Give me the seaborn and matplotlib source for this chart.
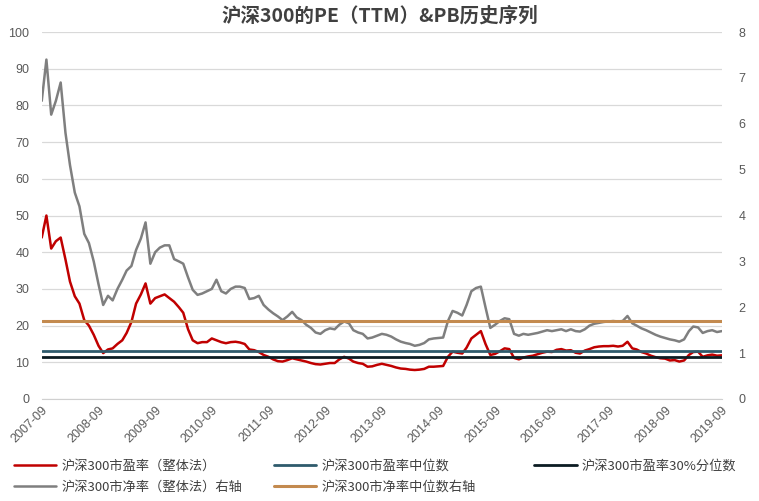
import matplotlib
matplotlib.use("Agg")
import matplotlib.pyplot as plt
import matplotlib.dates as mdates
import seaborn as sns
import pandas as pd

# monthly readings, 2007-09 .. 2019-09
pe = [44, 50, 41, 43, 44, 38, 32, 28, 26, 21.5, 20, 17.5,
      14.5, 12.5, 13.5, 13.8, 15, 16, 18, 21, 26, 28.5, 31.5, 26,
      27.5, 28, 28.5, 27.5, 26.5, 25, 23.5, 19, 16, 15.2, 15.5, 15.5,
      16.5, 16, 15.5, 15.2, 15.5, 15.6, 15.4, 15, 13.5, 13.3, 12.8, 12,
      11.5, 10.8, 10.3, 10.2, 10.6, 11.1, 10.8, 10.5, 10.2, 9.8, 9.5, 9.4,
      9.6, 9.8, 9.8, 10.8, 11.5, 11, 10.2, 9.8, 9.6, 8.8, 8.9, 9.3,
      9.6, 9.3, 9.0, 8.6, 8.3, 8.2, 8.0, 7.9, 8.0, 8.2, 8.8, 8.8,
      8.9, 9.0, 11.5, 12.9, 12.6, 12.4, 14, 16.5, 17.5, 18.5, 15, 12,
      12.3, 13, 13.8, 13.6, 11.2, 10.8, 11.3, 11.6, 11.8, 12.2, 12.6, 12.9,
      12.8, 13.4, 13.6, 13.2, 13.3, 12.6, 12.4, 13.2, 13.6, 14.1, 14.3, 14.4,
      14.4, 14.5, 14.3, 14.5, 15.6, 13.8, 13.5, 12.8, 12.4, 11.8, 11.4, 11.1,
      11.0, 10.5, 10.6, 10.2, 10.5, 12.0, 12.8, 12.9, 11.5, 11.9, 12.1, 11.8,
      11.9]
pb = [6.5, 7.4, 6.2, 6.5, 6.9, 5.8, 5.1, 4.5, 4.2, 3.6, 3.4, 3.0,
      2.5, 2.05, 2.25, 2.15, 2.4, 2.6, 2.8, 2.9, 3.25, 3.5, 3.85, 2.95,
      3.2, 3.3, 3.35, 3.35, 3.05, 3.0, 2.95, 2.65, 2.38, 2.27, 2.3, 2.35,
      2.4, 2.6, 2.35, 2.3, 2.4, 2.45, 2.45, 2.42, 2.18, 2.2, 2.25, 2.05,
      1.95, 1.87, 1.8, 1.72, 1.8, 1.9, 1.78, 1.72, 1.62, 1.55, 1.45, 1.42,
      1.5, 1.54, 1.52, 1.62, 1.69, 1.65, 1.5, 1.45, 1.42, 1.32, 1.34, 1.38,
      1.42, 1.4, 1.36, 1.3, 1.25, 1.22, 1.2, 1.16, 1.18, 1.22, 1.3, 1.32,
      1.33, 1.34, 1.7, 1.92, 1.88, 1.82, 2.05, 2.35, 2.42, 2.45, 2.0, 1.55,
      1.62, 1.7, 1.76, 1.74, 1.42, 1.38, 1.42, 1.4, 1.42, 1.44, 1.47, 1.5,
      1.48, 1.5, 1.52, 1.48, 1.52, 1.48, 1.47, 1.52, 1.6, 1.64, 1.66, 1.68,
      1.69, 1.7, 1.69, 1.70, 1.81, 1.65, 1.6, 1.54, 1.5, 1.45, 1.4, 1.36,
      1.33, 1.3, 1.28, 1.25, 1.3, 1.48, 1.58, 1.56, 1.44, 1.48, 1.5, 1.46,
      1.48]
pe_median = 13.1
pe_pct30 = 11.35
pb_median = 1.69

labels = ["沪深300市盈率（整体法）", "沪深300市盈率中位数", "沪深300市盈率30%分位数",
          "沪深300市净率（整体法）右轴", "沪深300市净率中位数右轴"]
title = "沪深300的PE（TTM）&PB历史序列"

dates = pd.date_range("2007-09-01", periods=len(pe), freq="MS")
df = pd.DataFrame({"date": dates, "pe": pe, "pb": pb})

sns.set_style("white")
plt.rcParams["font.family"] = ["Noto Sans CJK SC", "DejaVu Sans"]

fig = plt.figure(figsize=(7.59, 5.01), dpi=100)
ax = fig.add_axes([0.055, 0.2036, 0.896, 0.7324])
ax2 = ax.twinx()

txt = "#595959"
red = "#c00000"
gray = "#7f7f7f"
teal = "#2f5b6c"
dark = "#0c1c22"
tan = "#c38a4f"

sns.lineplot(data=df, x="date", y="pe", ax=ax, color=red, lw=1.8, zorder=3)
l_pe = ax.lines[-1]
l_med = ax.axhline(pe_median, color=teal, lw=2, zorder=4)
l_30 = ax.axhline(pe_pct30, color=dark, lw=2, zorder=4)

sns.lineplot(data=df, x="date", y="pb", ax=ax2, color=gray, lw=1.8, zorder=3)
l_pb = ax2.lines[-1]
l_pbm = ax2.axhline(pb_median, color=tan, lw=2.2, zorder=4)

ax.set_ylim(0, 100)
ax2.set_ylim(0, 8)
ax.set_yticks(range(0, 101, 10))
ax2.set_yticks(range(0, 9))
ax.set_xlim(pd.Timestamp("2007-09-01"), pd.Timestamp("2019-09-01"))
ax.set_xticks(pd.date_range("2007-09-01", "2019-09-01", freq="12MS"))
ax.xaxis.set_major_formatter(mdates.DateFormatter("%Y-%m"))

ax.grid(axis="y", color="#d9d9d9", lw=0.9)
ax.set_axisbelow(True)
for a in (ax, ax2):
    for s in a.spines.values():
        s.set_visible(False)
    a.set_xlabel("")
    a.set_ylabel("")
ax.spines["bottom"].set_visible(True)
ax.spines["bottom"].set_color("#d0d0d0")

ax.tick_params(axis="both", length=0, labelsize=9, labelcolor=txt)
ax.tick_params(axis="y", pad=9)
ax2.tick_params(axis="y", length=0, labelsize=9, labelcolor=txt, pad=12)
for t in ax.get_yticklabels() + ax2.get_yticklabels() + ax.get_xticklabels():
    t.set_family(["Liberation Sans", "DejaVu Sans"])
for t in ax.get_xticklabels():
    t.set_rotation(45)
    t.set_ha("right")
    t.set_va("top")
    t.set_rotation_mode("anchor")

fig.text(0.5, 0.968, title, ha="center", va="center", fontsize=14,
         fontweight="bold", color="#404040")

cols = [([l_pe, l_pb], [labels[0], labels[3]], 0.018),
        ([l_med, l_pbm], [labels[1], labels[4]], 0.361),
        ([l_30], [labels[2]], 0.704)]
for hs, ls, x0 in cols:
    fig.legend(hs, ls, loc="upper left", bbox_to_anchor=(x0, 0.083),
               frameon=False, fontsize=9.5, handlelength=3.2,
               handletextpad=0.4, labelspacing=0.6, borderpad=0,
               borderaxespad=0, labelcolor="#404040")

fig.savefig("out.png", dpi=100)
